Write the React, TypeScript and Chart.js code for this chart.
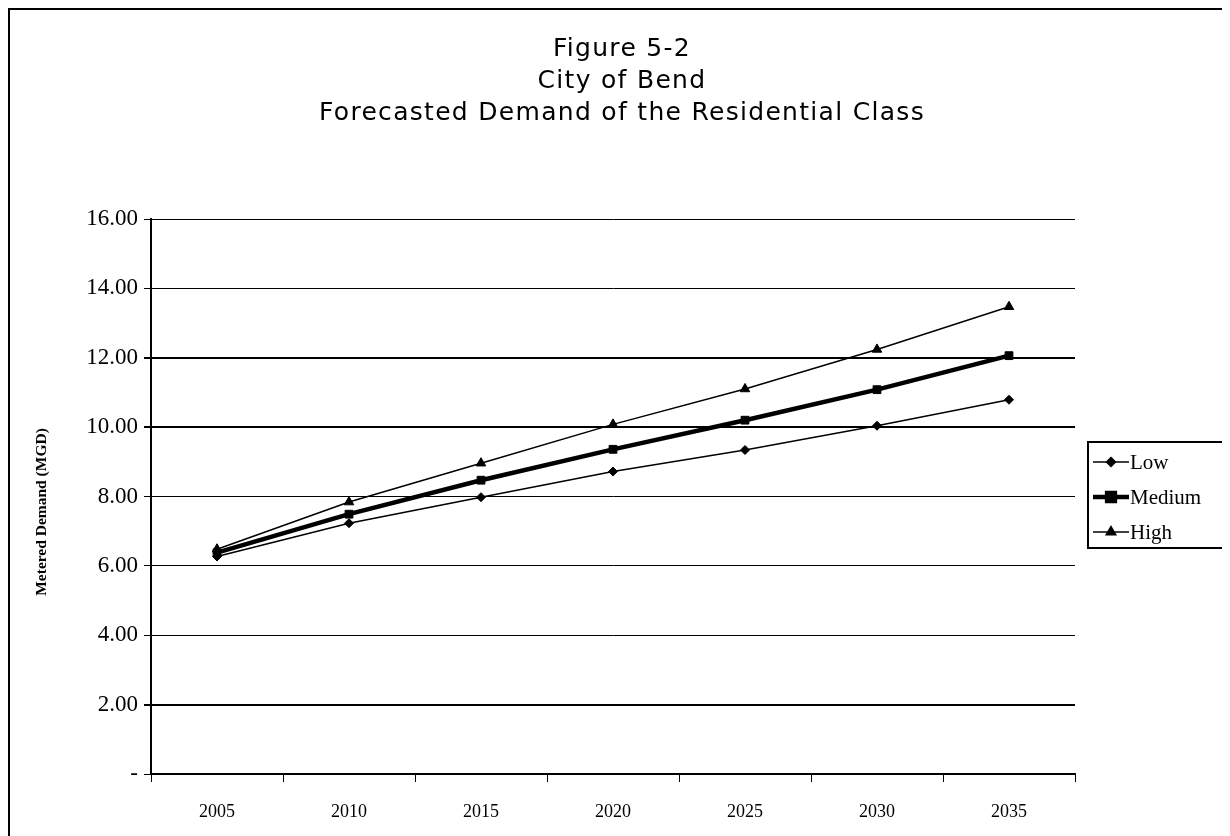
import React, { useEffect, useRef } from "react";
import { Chart, registerables } from "chart.js";
import { drawPoint } from "chart.js/helpers";

Chart.register(...registerables);

const years = ["2005", "2010", "2015", "2020", "2025", "2030", "2035"];
const lowValues = [6.27, 7.23, 7.98, 8.72, 9.34, 10.04, 10.79];
const mediumValues = [6.38, 7.49, 8.47, 9.36, 10.2, 11.08, 12.06];
const highValues = [6.48, 7.84, 8.96, 10.08, 11.1, 12.24, 13.47];
const titleLines = ["Figure 5-2", "City of Bend", "Forecasted Demand of the Residential Class"];
const yAxisTitle = "Metered Demand (MGD)";
const seriesNames = ["Low", "Medium", "High"];

const W = 1222;
const H = 828;
const SERIF = "'Liberation Serif', 'Times New Roman', serif";
const SANS = "'DejaVu Sans', sans-serif";

const styles = [
  { pointStyle: "rectRot", radius: 4.5, width: 1.5 },
  { pointStyle: "rect", radius: 5.5, width: 4.5 },
  { pointStyle: "triangle", radius: 5.5, width: 1.5 },
];

const decorPlugin = {
  id: "decor",
  afterDraw(chart: any) {
    const ctx = chart.ctx as CanvasRenderingContext2D;
    ctx.save();
    // outer frame (left and top edges visible)
    ctx.fillStyle = "#000";
    ctx.fillRect(0, 0, W, 2);
    ctx.fillRect(0, 0, 2, H);
    // titles
    ctx.font = `25px ${SANS}`;
    ctx.textAlign = "center";
    ctx.textBaseline = "middle";
    (ctx as any).letterSpacing = "1.3px";
    const ys = [41, 73, 105];
    titleLines.forEach((t, i) => ctx.fillText(t, 614, ys[i]));
    (ctx as any).letterSpacing = "0px";
    // y axis title
    ctx.save();
    ctx.translate(34, 504);
    ctx.rotate(-Math.PI / 2);
    ctx.font = `bold 15.5px ${SERIF}`;
    ctx.fillText(yAxisTitle, 0, 0);
    ctx.restore();
    // legend
    ctx.lineWidth = 2;
    ctx.strokeStyle = "#000";
    ctx.strokeRect(1080, 434, 150, 106);
    ctx.font = `21px ${SERIF}`;
    ctx.textAlign = "left";
    ctx.textBaseline = "middle";
    const ly = [454, 489, 524];
    seriesNames.forEach((name, i) => {
      const s = styles[i];
      ctx.beginPath();
      ctx.lineWidth = s.width;
      ctx.moveTo(1085, ly[i]);
      ctx.lineTo(1121, ly[i]);
      ctx.stroke();
      ctx.fillStyle = "#000";
      drawPoint(ctx, { pointStyle: s.pointStyle as any, radius: s.radius, borderWidth: 1, rotation: 0 } as any, 1103, ly[i]);
      ctx.fillStyle = "#000";
      ctx.fillText(name, 1122, ly[i] + 1);
    });
    ctx.restore();
  },
};

export default function App() {
  const ref = useRef<HTMLCanvasElement>(null);
  useEffect(() => {
    if (!ref.current) return;
    const data = [lowValues, mediumValues, highValues];
    const chart = new Chart(ref.current, {
      type: "line",
      data: {
        labels: years,
        datasets: seriesNames.map((name, i) => ({
          label: name,
          data: data[i],
          borderColor: "#000",
          backgroundColor: "#000",
          borderWidth: styles[i].width,
          pointStyle: styles[i].pointStyle as any,
          pointRadius: styles[i].radius,
          pointBorderWidth: 1,
          pointBackgroundColor: "#000",
          pointBorderColor: "#000",
          tension: 0,
          fill: false,
        })),
      },
      options: {
        responsive: false,
        animation: false,
        layout: { padding: { top: 211, right: 155, bottom: 0, left: 0 } },
        plugins: { legend: { display: false }, tooltip: { enabled: false }, title: { display: false } },
        scales: {
          x: {
            type: "category",
            offset: true,
            afterFit: (s: any) => { s.height = 62; },
            grid: { offset: true, drawOnChartArea: false, drawTicks: true, tickLength: 8, color: "#000", lineWidth: 1 },
            border: { color: "#000", width: 2 },
            ticks: { color: "#000", font: { family: SERIF, size: 18 }, padding: 19, maxRotation: 0, autoSkip: false },
          },
          y: {
            min: 0,
            max: 16,
            afterFit: (s: any) => { s.width = 143; },
            grid: {
              color: "#000",
              lineWidth: (c: any) => (c.tick && (c.tick.value === 10 || c.tick.value === 12 || c.tick.value === 2) ? 2 : 1),
              drawTicks: true,
              tickLength: 7,
            },
            border: { color: "#000", width: 2 },
            ticks: {
              stepSize: 2,
              color: "#000",
              font: { family: SERIF, size: 23 },
              padding: 6,
              callback: (v: any) => (Number(v) === 0 ? "-" : Number(v).toFixed(2)),
            },
            title: { display: false },
          },
        },
      },
      plugins: [decorPlugin],
    });
    return () => chart.destroy();
  }, []);
  return (
    <div style={{ width: W, height: H, position: "relative" }}>
      <canvas ref={ref} width={W} height={H} style={{ display: "block" }} />
    </div>
  );
}
